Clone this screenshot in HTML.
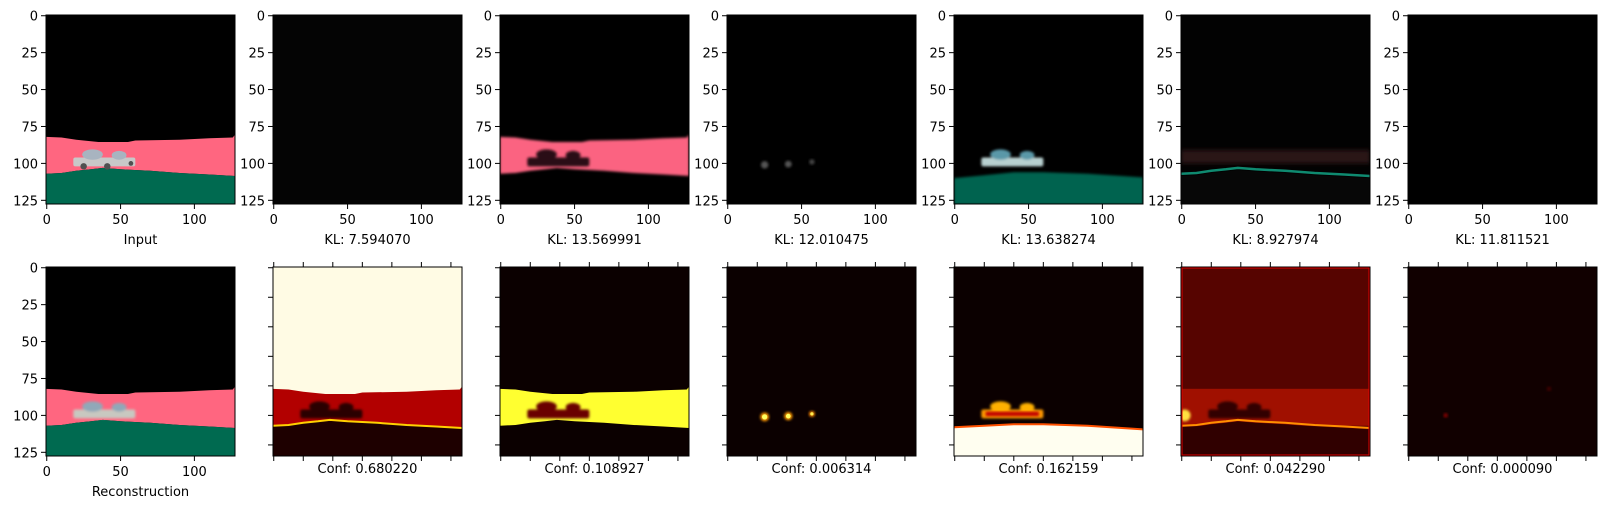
<!DOCTYPE html>
<html><head><meta charset="utf-8">
<style>
html,body{margin:0;padding:0;background:#fff;}
svg{display:block;font-family:"DejaVu Sans","Liberation Sans",sans-serif;}
</style></head>
<body>
<svg id="fig" width="1609" height="509" viewBox="0 0 1609 509" xmlns="http://www.w3.org/2000/svg">
<defs>
<filter id="b1" x="-20%" y="-20%" width="140%" height="140%"><feGaussianBlur stdDeviation="1.2"/></filter>
<filter id="b2" x="-20%" y="-20%" width="140%" height="140%"><feGaussianBlur stdDeviation="2.5"/></filter>
</defs>
</svg>
<script>
const klValues = [7.594070, 13.569991, 12.010475, 13.638274, 8.927974, 11.811521];
const confValues = [0.680220, 0.108927, 0.006314, 0.162159, 0.042290, 0.000090];
const axisTicks = [0, 50, 100];
const yTicks = [0, 25, 50, 75, 100, 125];
const hmTicks = [0, 20, 40, 60, 80, 100, 120];
const bandTop = [[-0.5,82],[10,82.5],[20,84],[35,85.5],[55,85.5],[60,84.5],[90,84],[110,83],[126,82.5],[127.5,80.5]];
const bandBottom = [[-0.5,107],[10,106.5],[20,105],[30,104],[38,103],[50,104],[70,105],[90,106.5],[110,107.5],[127.5,108.5]];

const NS = "http://www.w3.org/2000/svg";
const svg = document.getElementById('fig');
const LEFT0 = 46, STEP = 227, SIZE = 189, TOP1 = 15, TOP2 = 267;
const S = SIZE / 128;

function mk(tag, attrs, parent) {
  const e = document.createElementNS(NS, tag);
  for (const k in attrs) e.setAttribute(k, attrs[k]);
  (parent || svg).appendChild(e);
  return e;
}
function ax(l, t) {
  return {x: v => l + (v + 0.5) * S, y: v => t + (v + 0.5) * S};
}
function polyBand(a, top, bot) {
  const pts = top.map(p => a.x(p[0]) + ',' + a.y(p[1]));
  const b = bot.slice().reverse().map(p => a.x(p[0]) + ',' + a.y(p[1]));
  return pts.concat(b).join(' ');
}
function line(a, arr) {
  return arr.map(p => a.x(p[0]) + ',' + a.y(p[1])).join(' ');
}
const floorLine = [[-0.5,128],[127.5,128]];

function car(g, a, body, roof, wheel, filt) {
  const grp = mk('g', filt ? {filter: 'url(#' + filt + ')'} : {}, g);
  
  
  mk('rect', {x: a.x(18), y: a.y(96), width: 42 * S, height: 6 * S, fill: body, rx: 2}, grp);
  mk('ellipse', {cx: a.x(31), cy: a.y(94), rx: 7 * S, ry: 3.5 * S, fill: roof}, grp);
  mk('ellipse', {cx: a.x(49), cy: a.y(94.5), rx: 5 * S, ry: 3 * S, fill: roof}, grp);
  if (wheel) {
    mk('circle', {cx: a.x(25), cy: a.y(102), r: 2.2 * S, fill: wheel}, grp);
    mk('circle', {cx: a.x(41), cy: a.y(102), r: 2.2 * S, fill: wheel}, grp);
    mk('circle', {cx: a.x(57), cy: a.y(100), r: 1.6 * S, fill: wheel}, grp);
  }
}
function blob(g, a, x, y, r, fill, filt) {
  mk('circle', {cx: a.x(x), cy: a.y(y), r: r * S, fill: fill, filter: filt ? 'url(#' + filt + ')' : ''}, g);
}

function drawScene(idx, row, g, a) {
  const full = {x: a.x(-0.5), y: a.y(-0.5), width: SIZE, height: SIZE};
  if (row === 0) {
    const bg = ['#000', '#040404', '#000', '#000', '#000', '#020202', '#000'][idx];
    mk('rect', Object.assign({fill: bg}, full), g);
    if (idx === 0) {
      mk('polygon', {points: polyBand(a, bandTop, bandBottom), fill: '#ff6680'}, g);
      mk('polygon', {points: polyBand(a, bandBottom, floorLine), fill: '#006a50'}, g);
      car(g, a, '#c8c8c8', '#a8b4c0', '#505050', null);
    } else if (idx === 2) {
      mk('polygon', {points: polyBand(a, bandTop, bandBottom), fill: '#fb6481', filter: 'url(#b1)'}, g);
      car(g, a, '#2a0e12', '#2a0e12', null, 'b1');
    } else if (idx === 3) {
      blob(g, a, 25, 101, 2.5, '#555', 'b1'); blob(g, a, 41, 100.5, 2.3, '#555', 'b1'); blob(g, a, 57, 99, 1.8, '#444', 'b1');
    } else if (idx === 4) {
      mk('polygon', {points: polyBand(a, [[-0.5,110],[20,108],[40,106],[60,106],[90,107],[127.5,109.5]], floorLine), fill: '#046450', filter: 'url(#b1)'}, g);
      car(g, a, '#b8d0d0', '#5a98a8', null, 'b1');
    } else if (idx === 5) {
      mk('rect', {x: a.x(-0.5), y: a.y(91), width: SIZE, height: 9 * S, fill: '#2a1216', filter: 'url(#b2)'}, g);
      mk('polyline', {points: line(a, bandBottom), fill: 'none', stroke: '#0f8a70', 'stroke-width': 2.5}, g);
      mk('polygon', {points: polyBand(a, bandBottom.map(p => [p[0], p[1] + 1.5]), floorLine), fill: '#070707'}, g);
    }
  } else {
    if (idx === 0) {
      mk('rect', Object.assign({fill: '#000'}, full), g);
      mk('polygon', {points: polyBand(a, bandTop, bandBottom), fill: '#ff6680'}, g);
      mk('polygon', {points: polyBand(a, bandBottom, floorLine), fill: '#006a50'}, g);
      car(g, a, '#c8c8c0', '#90a8b8', null, 'b1');
    } else if (idx === 1) {
      mk('rect', Object.assign({fill: '#fffbe4'}, full), g);
      mk('polygon', {points: polyBand(a, bandTop, bandBottom), fill: '#b20000'}, g);
      mk('polygon', {points: polyBand(a, bandBottom, floorLine), fill: '#1e0000'}, g);
      car(g, a, '#2a0000', '#2a0000', null, 'b1');
      mk('polyline', {points: line(a, bandBottom), fill: 'none', stroke: '#ffd000', 'stroke-width': 2}, g);
    } else if (idx === 2) {
      mk('rect', Object.assign({fill: '#0b0000'}, full), g);
      mk('polygon', {points: polyBand(a, bandTop, bandBottom), fill: '#ffff30'}, g);
      car(g, a, '#6a0000', '#6a0000', null, 'b1');
    } else if (idx === 3) {
      mk('rect', Object.assign({fill: '#0b0000'}, full), g);
      blob(g, a, 25, 101, 3, '#ff9900', 'b1'); blob(g, a, 25, 101, 1.8, '#ffff60');
      blob(g, a, 41, 100.5, 2.8, '#ff9900', 'b1'); blob(g, a, 41, 100.5, 1.6, '#ffff60');
      blob(g, a, 57, 99, 2, '#ff8800', 'b1'); blob(g, a, 57, 99, 1.1, '#ffee50');
    } else if (idx === 4) {
      mk('rect', Object.assign({fill: '#0b0000'}, full), g);
      car(g, a, '#ff9a00', '#ffb000', null, 'b1');
      mk('rect', {x: a.x(21), y: a.y(97.5), width: 36 * S, height: 3 * S, fill: '#c00000', filter: 'url(#b1)'}, g);
      const top5 = [[-0.5,108],[20,107],[40,106],[60,106],[90,107],[127.5,109.5]];
      mk('polygon', {points: polyBand(a, top5, floorLine), fill: '#fffef0'}, g);
      mk('polyline', {points: line(a, top5), fill: 'none', stroke: '#ff5000', 'stroke-width': 2}, g);
    } else if (idx === 5) {
      mk('rect', Object.assign({fill: '#560400'}, full), g);
      mk('rect', {x: a.x(-0.5), y: a.y(82), width: SIZE, height: 25 * S, fill: '#a01000'}, g);
      mk('polygon', {points: polyBand(a, bandBottom.map(p => [p[0], p[1] + 1]), floorLine), fill: '#300000'}, g);
      car(g, a, '#300000', '#300000', null, 'b1');
      blob(g, a, 2, 100, 4, '#ffe040', 'b1');
      mk('polyline', {points: line(a, bandBottom), fill: 'none', stroke: '#ff9000', 'stroke-width': 2}, g);
      mk('rect', Object.assign({fill: 'none', stroke: '#e00000', 'stroke-width': 3}, full), g);
    } else {
      mk('rect', Object.assign({fill: '#110000'}, full), g);
      blob(g, a, 25, 100, 1.5, '#800000', 'b1');
      blob(g, a, 95, 82, 1.5, '#400000', 'b1');
    }
  }
}

function txt(x, y, s, anchor, name, parent) {
  const t = mk('text', {x: x, y: y, 'font-size': 13, 'text-anchor': anchor, fill: '#000'}, parent);
  t.textContent = s;
  
  
  return t;
}

for (let row = 0; row < 2; row++) {
  for (let i = 0; i < 7; i++) {
    const l = LEFT0 + STEP * i, t = row === 0 ? TOP1 : TOP2;
    const a = ax(l, t);
    const g = mk('g', {});
    
    
    const clipId = 'c' + row + i;
    const cp = mk('clipPath', {id: clipId}, g);
    mk('rect', {x: l, y: t, width: SIZE, height: SIZE}, cp);
    const img = mk('g', {'clip-path': 'url(#' + clipId + ')'}, g);
    
    
    drawScene(i, row, img, a);
    mk('rect', {x: l, y: t, width: SIZE, height: SIZE, fill: 'none', stroke: '#000', 'stroke-width': 1}, g);
    const labeled = (row === 0) || (i === 0);
    if (labeled) {
      axisTicks.forEach(v => {
        mk('line', {x1: a.x(v), x2: a.x(v), y1: t + SIZE, y2: t + SIZE + 5, stroke: '#000', 'stroke-width': 1}, g);
        txt(a.x(v), t + SIZE + 20, String(v), 'middle', 'x-tick-label', g);
      });
      yTicks.forEach(v => {
        mk('line', {x1: l - 5, x2: l, y1: a.y(v), y2: a.y(v), stroke: '#000', 'stroke-width': 1}, g);
        txt(l - 8, a.y(v) + 5, String(v), 'end', 'y-tick-label', g);
      });
    } else {
      hmTicks.forEach(v => {
        mk('line', {x1: a.x(v), x2: a.x(v), y1: t + SIZE, y2: t + SIZE + 5, stroke: '#000', 'stroke-width': 1}, g);
        mk('line', {x1: a.x(v), x2: a.x(v), y1: t - 5, y2: t, stroke: '#000', 'stroke-width': 1}, g);
        mk('line', {x1: l - 5, x2: l, y1: a.y(v), y2: a.y(v), stroke: '#000', 'stroke-width': 1}, g);
      });
    }
    let label;
    if (row === 0) label = i === 0 ? 'Input' : 'KL: ' + klValues[i - 1].toFixed(6);
    else label = i === 0 ? null : 'Conf: ' + confValues[i - 1].toFixed(6);
    if (label) {
      const y = row === 0 ? t + SIZE + 40 : t + SIZE + 17;
      txt(l + SIZE / 2, y, label, 'middle', row === 0 ? 'kl-label' : 'conf-label', g);
    }
    if (row === 1 && i === 0) txt(l + SIZE / 2, t + SIZE + 40, 'Reconstruction', 'middle', 'reconstruction-label', g);
  }
}
</script>
</body></html>
